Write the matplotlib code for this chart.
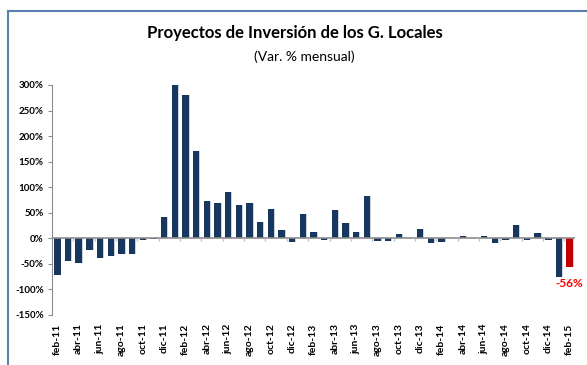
import numpy as np
import matplotlib.pyplot as plt
from matplotlib.lines import Line2D

# meses feb-11 .. feb-15
meses = ['feb-11', 'mar-11', 'abr-11', 'may-11', 'jun-11', 'jul-11', 'ago-11', 'sep-11',
         'oct-11', 'nov-11', 'dic-11', 'ene-12', 'feb-12', 'mar-12', 'abr-12', 'may-12',
         'jun-12', 'jul-12', 'ago-12', 'sep-12', 'oct-12', 'nov-12', 'dic-12', 'ene-13',
         'feb-13', 'mar-13', 'abr-13', 'may-13', 'jun-13', 'jul-13', 'ago-13', 'sep-13',
         'oct-13', 'nov-13', 'dic-13', 'ene-14', 'feb-14', 'mar-14', 'abr-14', 'may-14',
         'jun-14', 'jul-14', 'ago-14', 'sep-14', 'oct-14', 'nov-14', 'dic-14', 'ene-15',
         'feb-15']

# variacion % mensual
var_pct = [-72, -45, -49, -23, -38, -34, -31, -30,
           -4, -2, 41, 300, 280, 171, 74, 70,
           90, 66, 70, 32, 57, 16, -8, 48,
           12, -3, 56, 30, 12, 83, -5, -5,
           8, 1, 18, -9, -7, 1, 5, 1,
           5, -9, -3, 26, -3, 10, -3, -75,
           -56]

yticks = [-150, -100, -50, 0, 50, 100, 150, 200, 250, 300]

azul = '#17375E'
rojo = '#C00000'
sombra = '#C9D3E0'
gris = '#8C8C8C'
fuente = 'Lato'

x = np.arange(len(meses))
colores = [azul] * (len(meses) - 1) + [rojo]

fig = plt.figure(figsize=(5.87, 3.65), dpi=100)
ax = fig.add_axes([52 / 587, 1 - 315 / 365, (575 - 52) / 587, (315 - 85) / 365])

# sombra clara a la derecha de cada barra
ax.bar(x + 0.09, var_pct, width=0.6, color=sombra, zorder=1)
ax.bar(x, var_pct, width=0.6, color=colores, zorder=2)

ax.set_xlim(-0.5, len(meses) - 0.5)
ax.set_ylim(-150, 300)

# eje horizontal en cero con marcas cada dos meses
ax.axhline(0, color=gris, lw=1.2, zorder=3)
ax.vlines(np.arange(1.5, len(meses) - 1, 2), -6, 0, color='#BFBFBF', lw=1, zorder=3)

ax.set_xticks(x[::2])
ax.set_xticklabels(meses[::2], rotation=90, fontsize=7.5, fontweight='bold', family=fuente)
ax.tick_params(axis='x', length=0, pad=6)

ax.set_yticks(yticks)
ax.set_yticklabels([f'{v}%' for v in yticks], fontsize=7, fontweight='bold', family=fuente)
ax.tick_params(axis='y', length=3, color=gris, pad=3)

for s in ['top', 'right', 'bottom']:
    ax.spines[s].set_visible(False)
ax.spines['left'].set_color(gris)

ax.annotate(f'{var_pct[-1]}%', xy=(x[-1], var_pct[-1]), xytext=(0, -8),
            textcoords='offset points', ha='center', va='top',
            color='#FF0000', fontsize=8.5, fontweight='bold', family=fuente)

fig.text(0.502, 1 - 33 / 365, 'Proyectos de Inversión de los G. Locales', ha='center',
         va='center', fontsize=12, fontweight='bold', family=fuente)
fig.text(0.518, 1 - 57 / 365, '(Var. % mensual)', ha='center', va='center',
         fontsize=10, family=fuente)

# marco del grafico
bx, by = 8 / 587, 1 - 10.5 / 365
fig.add_artist(Line2D([bx, bx], [0, by], color='#5B7FB0', lw=1.5))
fig.add_artist(Line2D([bx, 1], [by, by], color='#5B7FB0', lw=1.5))

fig.savefig('out.png', dpi=100)
